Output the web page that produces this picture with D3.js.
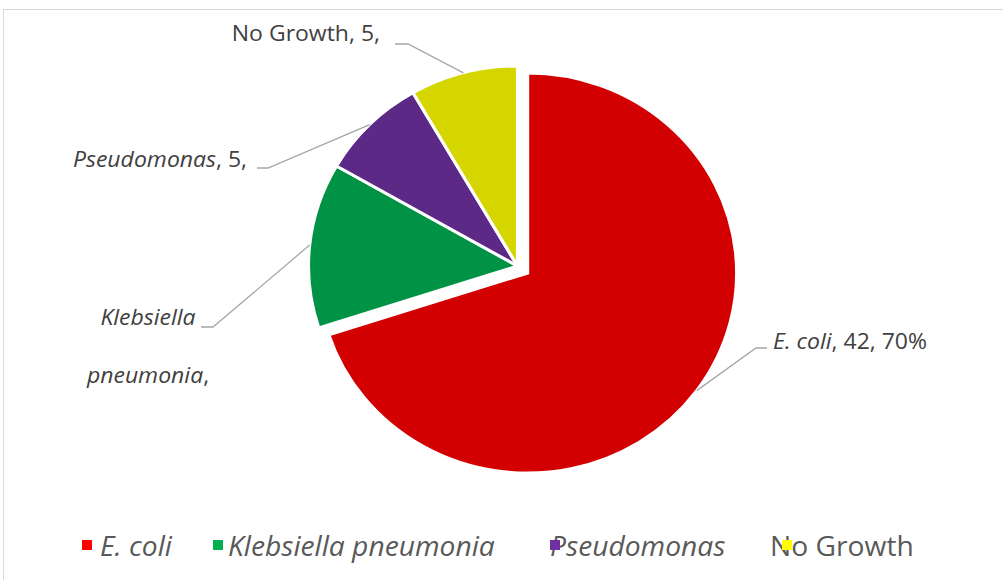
<!DOCTYPE html>
<html>
<head>
<meta charset="utf-8">
<script src="https://cdn.jsdelivr.net/npm/d3@7"></script>
<style>
  html, body { margin: 0; padding: 0; background: #fff; }
  svg { display: block; }
</style>
</head>
<body>
<svg id="chart" width="1003" height="580"></svg>
<script>
// Urine culture isolates
const categories = ["E. coli", "Klebsiella pneumonia", "Pseudomonas", "No Growth"];
const counts = [42, 8, 5, 5];
const italicName = [true, true, true, false];
const sliceColors = ["#d20000", "#009245", "#5c2a86", "#d5d500"];
const legendColors = ["#ff0000", "#00b050", "#7030a0", "#ffff00"];
// Data label text: [name part, value part]
const labelText = [
  ["E. coli", ", 42, 70%"],
  ["Klebsiella", "pneumonia,"],
  ["Pseudomonas", ", 5,"],
  ["No Growth", ", 5,"]
];

const svg = d3.select("#chart");
const W = 1003, H = 580;

// Chart area outline (top and left edges visible)
svg.append("rect")
  .attr("x", 3.5).attr("y", 9.5)
  .attr("width", W + 10).attr("height", H + 10)
  .attr("fill", "#fff")
  .attr("stroke", "#d9d9d9").attr("stroke-width", 1);

// Pie geometry (slightly wider than tall)
const cx = 517.5, cy = 266, r = 200, sx = 1.045;
const explodeIdx = 0, explodeDist = 12;

const pie = d3.pie().sort(null).value(d => d).startAngle(0).endAngle(2 * Math.PI);
const arcs = pie(counts);
const arc = d3.arc().innerRadius(0).outerRadius(r);

function offsetFor(i) {
  if (i !== explodeIdx) return [0, 0];
  const a = (arcs[i].startAngle + arcs[i].endAngle) / 2;
  return [Math.sin(a) * explodeDist * sx, -Math.cos(a) * explodeDist];
}

const pieG = svg.append("g");
arcs.forEach((d, i) => {
  const [ox, oy] = offsetFor(i);
  pieG.append("path")
    .attr("transform", `translate(${cx + ox},${cy + oy}) scale(${sx},1)`)
    .attr("d", arc(d))
    .attr("fill", sliceColors[i])
    .attr("stroke", "#fff")
    .attr("stroke-width", 3)
    .attr("stroke-linejoin", "miter");
});

// Point on the outer edge at the middle of a slice
function edgeMid(i) {
  const d = arcs[i];
  const a = (d.startAngle + d.endAngle) / 2;
  const [ox, oy] = offsetFor(i);
  return [cx + ox + Math.sin(a) * r * sx, cy + oy - Math.cos(a) * r];
}

// Label placement: text anchor point, elbow point of the leader
const labelLayout = [
  { x: 773, y: 349, anchor: "start", elbow: [[767, 348], [756, 348]] },
  { x: 148, y: 325, anchor: "middle", lineGap: 58, elbow: [[201, 327], [213, 327]] },
  { x: 247, y: 167, anchor: "end", elbow: [[257, 168], [268, 168]] },
  { x: 380, y: 41, anchor: "end", elbow: [[395, 44], [408, 44]] }
];

const labelG = svg.append("g")
  .attr("font-family", "'Open Sans', 'Noto Sans', sans-serif")
  .attr("font-size", 22)
  .attr("fill", "#404040");

// text placed at (x, y) and stretched horizontally like the pie
function stretchedText(g, x, y, anchor) {
  return g.append("text")
    .attr("transform", `translate(${x},${y}) scale(${sx},1)`)
    .attr("text-anchor", anchor);
}

const line = d3.line();
arcs.forEach((d, i) => {
  const L = labelLayout[i];
  const pts = [L.elbow[0], L.elbow[1], edgeMid(i)];
  svg.append("path")
    .attr("d", line(pts))
    .attr("fill", "none")
    .attr("stroke", "#a6a6a6")
    .attr("stroke-width", 1.3);

  if (L.lineGap) {
    // name wrapped onto two lines
    stretchedText(labelG, L.x, L.y, L.anchor)
      .attr("font-style", "italic")
      .text(labelText[i][0]);
    const t2 = stretchedText(labelG, L.x, L.y + L.lineGap, L.anchor);
    t2.append("tspan").attr("font-style", "italic").text(labelText[i][1].replace(",", ""));
    t2.append("tspan").text(",");
  } else {
    const t = stretchedText(labelG, L.x, L.y, L.anchor);
    t.append("tspan")
      .attr("font-style", italicName[i] ? "italic" : "normal")
      .text(labelText[i][0]);
    t.append("tspan").text(labelText[i][1]);
  }
});

// Legend
const legendItems = [
  { mx: 82, tx: 100 },
  { mx: 213, tx: 228 },
  { mx: 550, tx: 550 },
  { mx: 782, tx: 770 }
];
const legY = 556;
const legG = svg.append("g")
  .attr("font-family", "'Open Sans', 'Noto Sans', sans-serif")
  .attr("font-size", 27)
  .attr("fill", "#595959");
categories.forEach((c, i) => {
  const p = legendItems[i];
  stretchedText(legG, p.tx, legY, "start")
    .attr("font-style", italicName[i] ? "italic" : "normal")
    .text(c);
  legG.append("rect")
    .attr("x", p.mx).attr("y", 540)
    .attr("width", 10).attr("height", 10)
    .attr("fill", legendColors[i]);
});
</script>
</body>
</html>
